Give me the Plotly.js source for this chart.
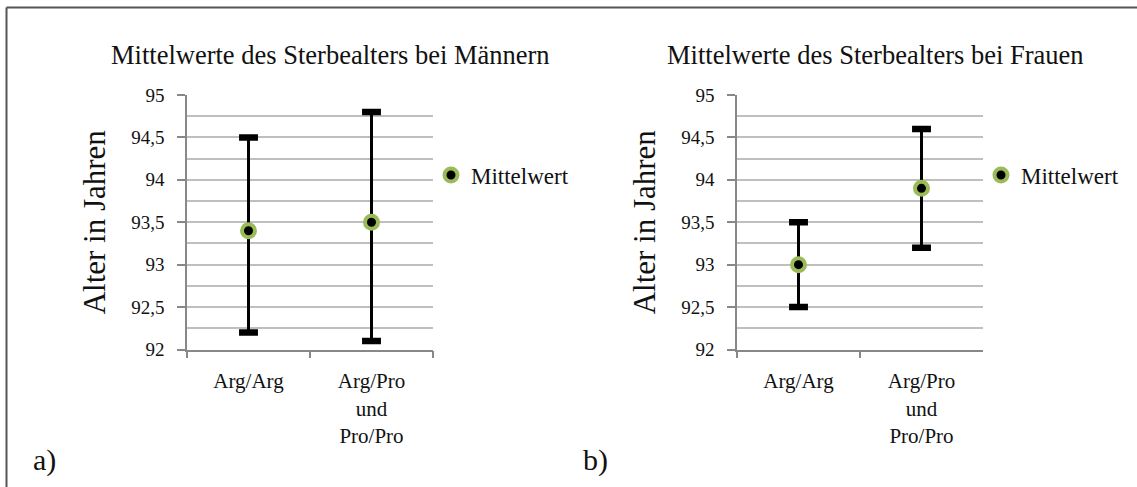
<!DOCTYPE html>
<html>
<head>
<meta charset="utf-8">
<script src="https://cdn.plot.ly/plotly-3.0.1.min.js"></script>
<style>html,body{margin:0;padding:0;background:#fff;}#chart{width:1137px;height:487px;}</style>
</head>
<body>
<div id="chart"></div>
<script>
// ---- data ----
const categories = ["Arg/Arg", "Arg/Pro<br>und<br>Pro/Pro"];
const menMean  = [93.4, 93.5];
const menUpper = [94.5, 94.8];
const menLower = [92.2, 92.1];
const womenMean  = [93.0, 93.9];
const womenUpper = [93.5, 94.6];
const womenLower = [92.5, 93.2];
const titleMen = "Mittelwerte des Sterbealters bei Männern";
const titleWomen = "Mittelwerte des Sterbealters bei Frauen";
const yTitle = "Alter in Jahren";
const seriesName = "Mittelwert";
const panelLabels = ["a)", "b)"];

// ---- style ----
const W = 1137, H = 487;
const FONT = "'Liberation Serif', 'DejaVu Serif', serif";
const TXT = "#111111";
const GRID = "#bfbfbf";
const AXIS = "#888888";
const GREEN = "#9bbb59";
const px = v => v / W;
const py = v => 1 - v / H;

function meanTrace(mean, upper, lower, xa, ya, leg) {
  return {
    type: "scatter", mode: "markers", name: seriesName,
    x: categories, y: mean, xaxis: xa, yaxis: ya, legend: leg,
    error_y: {
      type: "data", symmetric: false,
      array: upper.map((u, i) => u - mean[i]),
      arrayminus: lower.map((l, i) => mean[i] - l),
      color: "#000", thickness: 3, width: 0
    },
    marker: { size: 13, color: "#000", line: { color: GREEN, width: 4 } },
    hoverinfo: "y"
  };
}
function capTrace(upper, lower, xa, ya) {
  return {
    type: "scatter", mode: "markers", showlegend: false, hoverinfo: "skip",
    x: categories.concat(categories), y: upper.concat(lower), xaxis: xa, yaxis: ya,
    marker: { symbol: "line-ew", size: 13.5, line: { color: "#000", width: 6.5 } }
  };
}

const data = [
  capTrace(menUpper, menLower, "x", "y"),
  meanTrace(menMean, menUpper, menLower, "x", "y", "legend"),
  capTrace(womenUpper, womenLower, "x2", "y2"),
  meanTrace(womenMean, womenUpper, womenLower, "x2", "y2", "legend2")
];

function xAxis(d0, d1, anchor) {
  return {
    domain: [px(d0), px(d1)], anchor: anchor, type: "category", range: [-0.5, 1.5],
    showline: true, linecolor: AXIS, linewidth: 1.5,
    ticks: "outside", tickson: "boundaries", ticklen: 7, tickcolor: AXIS, tickwidth: 1.5,
    showgrid: false, zeroline: false, fixedrange: true,
    tickfont: { family: FONT, size: 21, color: TXT }, ticklabelstandoff: 12
  };
}
function yAxis(anchor) {
  return {
    domain: [py(349.5), py(95)], anchor: anchor, range: [92, 95],
    tick0: 92, dtick: 0.5, showline: true, linecolor: AXIS, linewidth: 1.5,
    ticks: "outside", ticklen: 8, tickcolor: AXIS, tickwidth: 1.5,
    showgrid: true, gridcolor: GRID, gridwidth: 1.5, zeroline: false, fixedrange: true,
    minor: { dtick: 0.25, tick0: 92, showgrid: true, gridcolor: GRID, gridwidth: 1.5, ticks: "" },
    tickfont: { family: FONT, size: 19, color: TXT }, ticklabelstandoff: 9,
    title: { text: yTitle, font: { family: FONT, size: 31, color: TXT }, standoff: 16 },
    automargin: false
  };
}

const legendBase = {
  font: { family: FONT, size: 23, color: TXT }, bgcolor: "rgba(0,0,0,0)",
  borderwidth: 0, xanchor: "left", yanchor: "middle", itemclick: false, itemdoubleclick: false
};

const layout = {
  width: W, height: H,
  margin: { l: 0, r: 0, t: 0, b: 0 },
  paper_bgcolor: "#fff", plot_bgcolor: "#fff",
  separators: ",.",
  font: { family: FONT, color: TXT },
  showlegend: true,
  xaxis: xAxis(187, 433, "y"),
  yaxis: yAxis("x"),
  xaxis2: xAxis(737, 983, "y2"),
  yaxis2: yAxis("x2"),
  legend: Object.assign({}, legendBase, { x: px(431), y: py(175) }),
  legend2: Object.assign({}, legendBase, { x: px(981), y: py(175) }),
  annotations: [
    { text: titleMen, x: px(330), y: py(55), xref: "paper", yref: "paper", showarrow: false,
      xanchor: "center", yanchor: "middle", font: { family: FONT, size: 26.5, color: TXT } },
    { text: titleWomen, x: px(875), y: py(55), xref: "paper", yref: "paper", showarrow: false,
      xanchor: "center", yanchor: "middle", font: { family: FONT, size: 26.5, color: TXT } },
    { text: panelLabels[0], x: px(44), y: py(460), xref: "paper", yref: "paper", showarrow: false,
      xanchor: "center", yanchor: "middle", font: { family: FONT, size: 30, color: TXT } },
    { text: panelLabels[1], x: px(595), y: py(460), xref: "paper", yref: "paper", showarrow: false,
      xanchor: "center", yanchor: "middle", font: { family: FONT, size: 30, color: TXT } }
  ],
  shapes: [
    { type: "line", xref: "paper", yref: "paper", x0: px(6.5), y0: py(487), x1: px(6.5), y1: py(7.5),
      line: { color: "#555", width: 2 } },
    { type: "line", xref: "paper", yref: "paper", x0: px(6.5), y0: py(7.5), x1: px(1137), y1: py(7.5),
      line: { color: "#555", width: 2 } }
  ]
};

Plotly.newPlot("chart", data, layout, { displayModeBar: false });
</script>
</body>
</html>
